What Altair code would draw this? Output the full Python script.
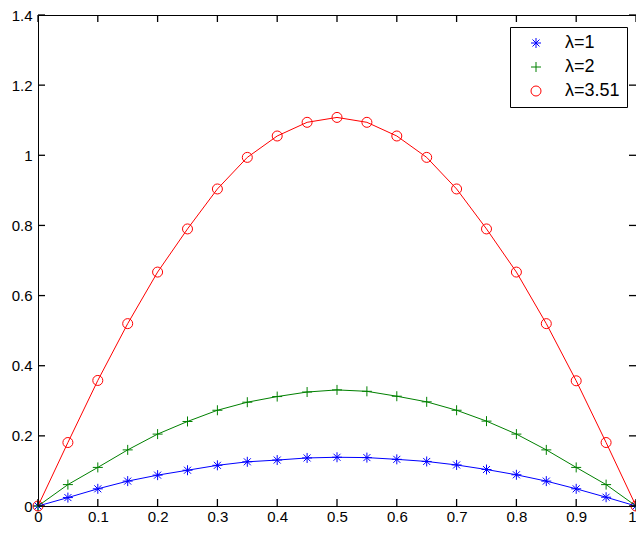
import altair as alt
import pandas as pd

x_values = [0, 0.05, 0.1, 0.15, 0.2, 0.25, 0.3, 0.35, 0.4, 0.45, 0.5,
            0.55, 0.6, 0.65, 0.7, 0.75, 0.8, 0.85, 0.9, 0.95, 1.0]
y_lambda1 = [0, 0.024, 0.049, 0.071, 0.088, 0.102, 0.116, 0.126, 0.131, 0.137, 0.139,
             0.138, 0.133, 0.127, 0.117, 0.104, 0.089, 0.071, 0.049, 0.025, 0]
y_lambda2 = [0, 0.061, 0.110, 0.160, 0.205, 0.241, 0.273, 0.296, 0.312, 0.325, 0.331,
             0.327, 0.313, 0.297, 0.273, 0.242, 0.205, 0.160, 0.110, 0.061, 0]
y_lambda351 = [0, 0.181, 0.358, 0.520, 0.667, 0.790, 0.904, 0.994, 1.055, 1.094, 1.108,
               1.094, 1.055, 0.994, 0.904, 0.790, 0.667, 0.520, 0.357, 0.181, 0]
series_names = ["λ=1", "λ=2", "λ=3.51"]
series_colors = ["#0000ff", "#008000", "#ff0000"]
asterisk = "M0,-1L0,1M-1,0L1,0M-0.7,-0.7L0.7,0.7M-0.7,0.7L0.7,-0.7"
plus = "M0,-1L0,1M-1,0L1,0"
series_shapes = [asterisk, plus, "circle"]
x_ticks = [0, 0.1, 0.2, 0.3, 0.4, 0.5, 0.6, 0.7, 0.8, 0.9, 1]
y_ticks = [0, 0.2, 0.4, 0.6, 0.8, 1.0, 1.2, 1.4]

rows = []
for name, ys in zip(series_names, [y_lambda1, y_lambda2, y_lambda351]):
    for xv, yv in zip(x_values, ys):
        rows.append({"x": xv, "y": yv, "series": name})
df = pd.DataFrame(rows)
df_xt = pd.DataFrame({"t": x_ticks})
df_yt = pd.DataFrame({"t": y_ticks})

W, H = 598, 491
TICK = 7
FONT = "Liberation Sans"
xscale = alt.Scale(domain=[0, 1], nice=False, zero=False)
yscale = alt.Scale(domain=[0, 1.4], nice=False, zero=False)
color_scale = alt.Scale(domain=series_names, range=series_colors)
shape_scale = alt.Scale(domain=series_names, range=series_shapes)

common_axis = dict(grid=False, domain=False, ticks=False,
                   labelFont=FONT, labelFontSize=15, labelColor="black",
                   labelFlush=False, title=None)

legend = alt.Legend(title=None, orient="none", legendX=472, legendY=12,
                    fillColor="white", strokeColor="black", cornerRadius=0,
                    padding=7, symbolOffset=10, labelOffset=20, rowPadding=6,
                    labelFont=FONT, labelFontSize=18, labelColor="black",
                    symbolSize=100, symbolStrokeWidth=1)

points = alt.Chart(df).mark_point(filled=False, size=100, strokeWidth=1, opacity=1).encode(
    x=alt.X("x:Q", scale=xscale,
            axis=alt.Axis(orient="bottom", values=x_ticks, format="~g", labelPadding=3,
                          labelAlign={"condition": {"test": "datum.value >= 1", "value": "right"},
                                      "value": "center"},
                          **common_axis)),
    y=alt.Y("y:Q", scale=yscale,
            axis=alt.Axis(orient="left", values=y_ticks, format="~g", labelPadding=6, **common_axis)),
    color=alt.Color("series:N", scale=color_scale, sort=series_names, legend=legend),
    shape=alt.Shape("series:N", scale=shape_scale, sort=series_names, legend=legend),
)

lines = alt.Chart(df).mark_line(strokeWidth=1).encode(
    x=alt.X("x:Q", scale=xscale),
    y=alt.Y("y:Q", scale=yscale),
    color=alt.Color("series:N", scale=color_scale, sort=series_names, legend=None),
    detail="series:N",
)

vt = dict(color="black", opacity=1, thickness=1.3, size=TICK, orient="vertical")
ht = dict(color="black", opacity=1, thickness=1.3, size=TICK, orient="horizontal")
xt_bottom = alt.Chart(df_xt).mark_tick(**vt).encode(
    x=alt.X("t:Q", scale=xscale), y=alt.value(H - TICK / 2))
xt_top = alt.Chart(df_xt).mark_tick(**vt).encode(
    x=alt.X("t:Q", scale=xscale), y=alt.value(TICK / 2))
yt_left = alt.Chart(df_yt).mark_tick(**ht).encode(
    y=alt.Y("t:Q", scale=yscale), x=alt.value(TICK / 2))
yt_right = alt.Chart(df_yt).mark_tick(**ht).encode(
    y=alt.Y("t:Q", scale=yscale), x=alt.value(W - TICK / 2))

chart = alt.layer(points, lines, xt_bottom, xt_top, yt_left, yt_right).properties(
    width=W, height=H,
    autosize=alt.AutoSizeParams(type="none"),
    padding={"left": 30, "top": 7, "right": 0, "bottom": 21},
    background="white",
).configure_view(stroke="black", strokeWidth=1)

chart.save("out.html", embed_options={"renderer": "svg", "actions": False})
